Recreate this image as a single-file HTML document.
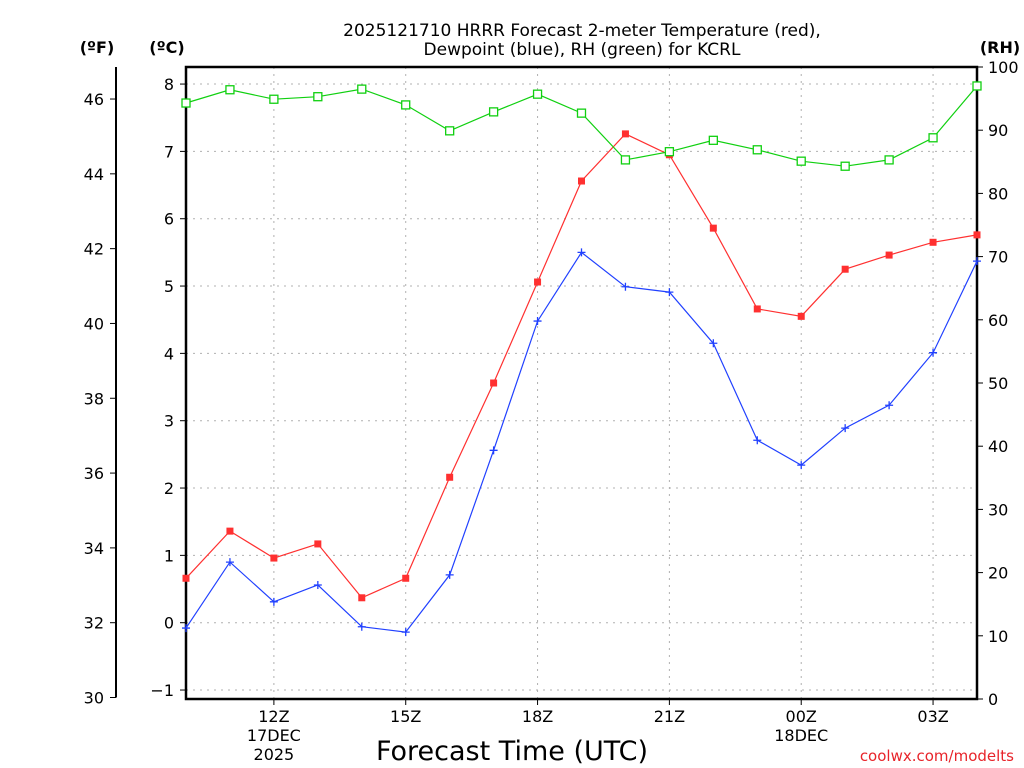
<!DOCTYPE html>
<html><head><meta charset="utf-8"><style>
body{margin:0;background:#fff}
svg{display:block;font-family:"DejaVu Sans","Liberation Sans",sans-serif}
</style></head><body>
<svg id="chart" width="1024" height="768" viewBox="0 0 1024 768" xmlns="http://www.w3.org/2000/svg">
<rect width="1024" height="768" fill="#fff"/>
<g id="grid"></g>
<g id="axes"></g>
<g id="series"></g>
<text x="582" y="36" text-anchor="middle" font-size="17">2025121710 HRRR Forecast 2-meter Temperature (red),</text>
<text x="582" y="55" text-anchor="middle" font-size="17">Dewpoint (blue), RH (green) for KCRL</text>
<text x="97" y="53" text-anchor="middle" font-size="16" font-weight="bold">(ºF)</text>
<text x="167" y="53" text-anchor="middle" font-size="16" font-weight="bold">(ºC)</text>
<text x="1000" y="53" text-anchor="middle" font-size="16" font-weight="bold">(RH)</text>
<text x="512" y="760" text-anchor="middle" font-size="27">Forecast Time (UTC)</text>
<text x="1014" y="761" text-anchor="end" font-size="15" fill="#e8242a">coolwx.com/modelts</text>
</svg>
<script>
const hours=["10Z","11Z","12Z","13Z","14Z","15Z","16Z","17Z","18Z","19Z","20Z","21Z","22Z","23Z","00Z","01Z","02Z","03Z","04Z"];
const tempC=[0.66,1.36,0.96,1.17,0.37,0.66,2.16,3.56,5.06,6.56,7.26,6.95,5.86,4.66,4.55,5.25,5.46,5.65,5.76];
const dewC=[-0.08,0.90,0.31,0.56,-0.06,-0.14,0.71,2.56,4.48,5.50,4.99,4.91,4.15,2.71,2.34,2.89,3.23,4.01,5.37];
const rh=[94.3,96.4,94.9,95.3,96.5,94.0,89.9,92.9,95.7,92.7,85.3,86.6,88.4,86.9,85.1,84.3,85.3,88.8,97.0];
const cTicks=[-1,0,1,2,3,4,5,6,7,8];
const fTicks=[30,32,34,36,38,40,42,44,46];
const rhTicks=[0,10,20,30,40,50,60,70,80,90,100];
const xTickIdx=[2,5,8,11,14,17];
const xSub={2:["17DEC","2025"],14:["18DEC"]};

const NS="http://www.w3.org/2000/svg";
const L=186,R=977,T=67,B=699;
const xS=i=>L+i*(R-L)/(hours.length-1);
const yC=c=>622.7-c*67.33;
const yF=f=>yC((f-32)/1.8);
const yRH=v=>B-v*(B-T)/100;
function mk(tag,attrs,parent){const e=document.createElementNS(NS,tag);for(const k in attrs)e.setAttribute(k,attrs[k]);parent.appendChild(e);return e;}
const grid=document.getElementById('grid'),axes=document.getElementById('axes'),series=document.getElementById('series');
cTicks.forEach(c=>{const l=mk('line',{x1:L,x2:R,y1:yC(c),y2:yC(c),stroke:'#b0b0b0','stroke-dasharray':'2,5'},grid);


mk('line',{x1:L-6,x2:L,y1:yC(c),y2:yC(c),stroke:'#000'},axes);
const t=mk('text',{x:L-12,y:yC(c)+6,'text-anchor':'end','font-size':'16'},axes);t.textContent=c<0?'\u2212'+(-c):c;

});
xTickIdx.forEach(i=>{const x=xS(i);const l=mk('line',{x1:x,x2:x,y1:T,y2:B,stroke:'#b0b0b0','stroke-dasharray':'2,5'},grid);


mk('line',{x1:x,x2:x,y1:B,y2:B+6,stroke:'#000'},axes);
const lines=[hours[i]].concat(xSub[i]||[]);
lines.forEach((s,k)=>{const t=mk('text',{x:x,y:722+k*19,'text-anchor':'middle','font-size':'16'},axes);t.textContent=s;

});});
// F axis
mk('line',{x1:116,x2:116,y1:T,y2:yF(30),stroke:'#000','stroke-width':2},axes);
fTicks.forEach(f=>{mk('line',{x1:110,x2:116,y1:yF(f),y2:yF(f),stroke:'#000'},axes);
const t=mk('text',{x:104,y:yF(f)+6,'text-anchor':'end','font-size':'16'},axes);t.textContent=f;

});
rhTicks.forEach(v=>{mk('line',{x1:R,x2:R+6,y1:yRH(v),y2:yRH(v),stroke:'#000'},axes);
const t=mk('text',{x:R+11,y:yRH(v)+6,'font-size':'16'},axes);t.textContent=v;

});
mk('rect',{x:L,y:T,width:R-L,height:B-T,fill:'none',stroke:'#000','stroke-width':2.5},axes);
function line(vals,yf,color,name){const p=vals.map((v,i)=>xS(i).toFixed(1)+','+yf(v).toFixed(1)).join(' ');
const pl=mk('polyline',{points:p,fill:'none',stroke:color,'stroke-width':1.2},series);

}
line(tempC,yC,'#ff3030','temperature-line');
line(dewC,yC,'#2040ff','dewpoint-line');
line(rh,yRH,'#10d010','rh-line');
tempC.forEach((v,i)=>{const r=mk('rect',{x:xS(i)-3.5,y:yC(v)-3.5,width:7,height:7,fill:'#ff3030'},series);

});
dewC.forEach((v,i)=>{const g=mk('path',{d:`M${xS(i)-4},${yC(v)}h8M${xS(i)},${yC(v)-4}v8`,stroke:'#2040ff','stroke-width':1.3},series);

});
rh.forEach((v,i)=>{const r=mk('rect',{x:xS(i)-4,y:yRH(v)-4,width:8,height:8,fill:'#fff',stroke:'#10d010','stroke-width':1.3},series);

});
</script>
</body></html>
